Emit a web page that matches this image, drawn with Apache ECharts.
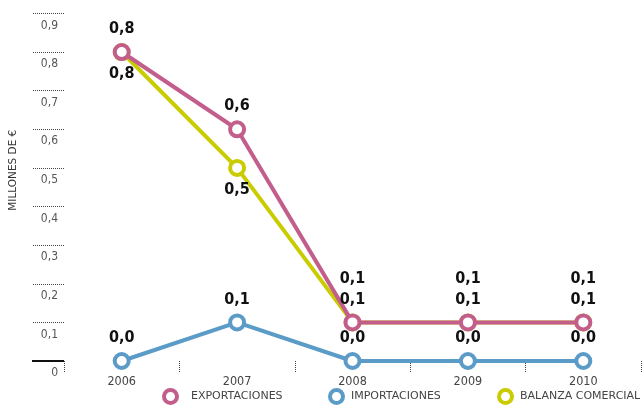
<!DOCTYPE html>
<html><head><meta charset="utf-8">
<script src="https://cdn.jsdelivr.net/npm/echarts@6/dist/echarts.min.js"></script>
<style>html,body{margin:0;padding:0;background:#fff}#c{width:642px;height:414px}</style>
</head><body><div id="c"></div>
<script>
const years = ['2006','2007','2008','2009','2010'];
const exportaciones = [0.8, 0.6, 0.1, 0.1, 0.1];
const importaciones = [0.0, 0.1, 0.0, 0.0, 0.0];
const balanza = [0.8, 0.5, 0.1, 0.1, 0.1];
const yTicks = [0.1,0.2,0.3,0.4,0.5,0.6,0.7,0.8,0.9];

const FONT = "'DejaVu Sans Condensed','DejaVu Sans',sans-serif";
const FONT2 = "'DejaVu Sans',sans-serif";
const C_EXP = '#c35e8c', C_IMP = '#5b9bc7', C_BAL = '#c9cc00';
const fmt = v => v.toFixed(1).replace('.', ',');
const lbl = {show:true, fontFamily:FONT, fontWeight:'bold', fontSize:16, color:'#111', formatter:p=>fmt(p.value)};

function leg(name, color, left, pad){
  return {bottom:4, left:left, itemWidth:13, itemHeight:13, icon:'circle',
    textStyle:{fontFamily:FONT2, fontSize:11, color:'#444', padding:[0,0,0,pad]},
    data:[{name:name, itemStyle:{color:'#fff', borderColor:color, borderWidth:4}}]};
}

const chart = echarts.init(document.getElementById('c'));
chart.setOption({
  animation:false,
  grid:{left:64, right:1, top:13.4, bottom:53, outerBoundsMode:'none', containLabel:false},
  xAxis:{type:'category', data:years, offset:10, boundaryGap:true,
    axisLine:{show:false},
    axisTick:{show:true, interval:0, length:11, lineStyle:{type:'dotted', color:'#444', width:1}},
    axisLabel:{margin:4, fontFamily:FONT, fontSize:12.5, color:'#444'}},
  yAxis:[{type:'value', min:0, max:0.9, interval:0.1,
    name:'MILLONES DE €', nameLocation:'middle', nameRotate:90, nameGap:45,
    nameTextStyle:{fontFamily:FONT2, fontSize:10.5, color:'#333', padding:[0,0,0,34]},
    axisLine:{show:false}, splitLine:{show:false},
    axisTick:{show:true, length:32, customValues:yTicks, lineStyle:{type:'dotted', color:'#444', width:1}},
    axisLabel:{margin:6, verticalAlign:'top', padding:[6,0,0,0], fontFamily:FONT, fontSize:12, color:'#555',
      formatter:v=> v===0 ? '0' : fmt(v)}},
   {type:'value', min:0, max:0.9, position:'left', axisLine:{show:false}, splitLine:{show:false}, axisLabel:{show:false},
    axisTick:{show:true, length:32, customValues:[0], lineStyle:{color:'#111', width:2}}}],
  legend:[leg('EXPORTACIONES', C_EXP, 157, 9), leg('IMPORTACIONES', C_IMP, 323, 3), leg('BALANZA COMERCIAL', C_BAL, 492, 3)],
  series:[
    {name:'BALANZA COMERCIAL', type:'line', z:2, data:balanza.map((v,i)=>({value:v,
        label: i<2 ? {position:'bottom', distance:5} : {position:'top', distance:27}})),
      symbol:'circle', symbolSize:14, lineStyle:{color:C_BAL, width:4},
      itemStyle:{color:'#fff', borderColor:C_BAL, borderWidth:4}, label:lbl},
    {name:'IMPORTACIONES', type:'line', z:3, data:importaciones,
      symbol:'circle', symbolSize:14, lineStyle:{color:C_IMP, width:4},
      itemStyle:{color:'#fff', borderColor:C_IMP, borderWidth:4}, label:Object.assign({position:'top', distance:6}, lbl)},
    {name:'EXPORTACIONES', type:'line', z:4, data:exportaciones,
      symbol:'circle', symbolSize:14, lineStyle:{color:C_EXP, width:4},
      itemStyle:{color:'#fff', borderColor:C_EXP, borderWidth:4}, label:Object.assign({position:'top', distance:6}, lbl)}
  ]
});
</script></body></html>
